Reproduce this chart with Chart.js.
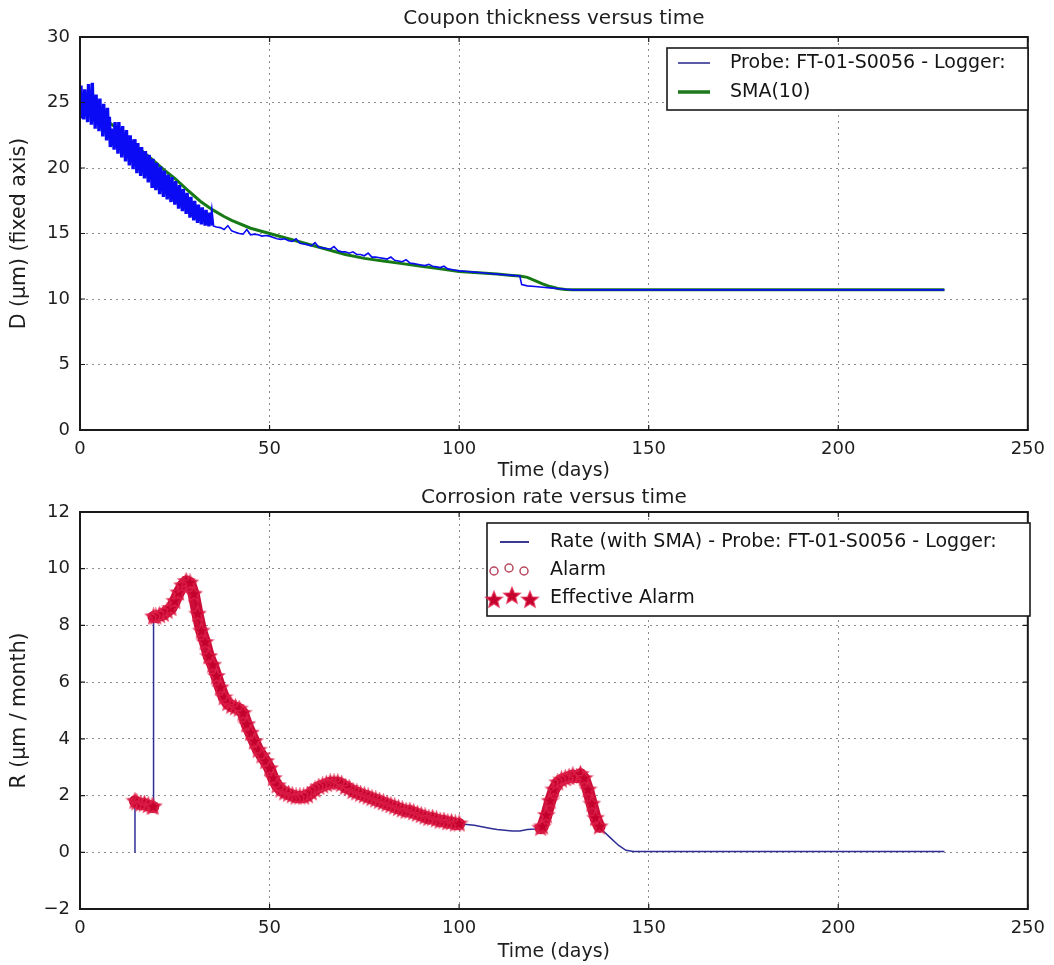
<!DOCTYPE html>
<html lang="en">
<head>
  <meta charset="UTF-8" />
  <title>Coupon thickness and corrosion rate</title>
  <script src="https://cdn.jsdelivr.net/npm/chart.js"></script>
  <style>
    html, body { margin: 0; padding: 0; background: #fff; }
    #wrap { position: relative; width: 1054px; height: 965px; }
    .panel { position: absolute; left: 0; width: 1054px; }
  </style>
</head>
<body>
  <div id="wrap">
    <div class="panel" style="top:0;height:486px"><canvas id="thickChart"></canvas></div>
    <div class="panel" style="top:486px;height:479px"><canvas id="rateChart"></canvas></div>
  </div>

  <script>
    // ---- top panel: coupon thickness (um) ----
    // first 35 days are a noisy logger signal (sampled every 6 h)
    const noisyDays = [
      0,0.25,0.5,0.75, 1,1.25,1.5,1.75, 2,2.25,2.5,2.75, 3,3.25,3.5,3.75, 4,4.25,4.5,4.75,
      5,5.25,5.5,5.75, 6,6.25,6.5,6.75, 7,7.25,7.5,7.75, 8,8.25,8.5,8.75, 9,9.25,9.5,9.75,
      10,10.25,10.5,10.75, 11,11.25,11.5,11.75, 12,12.25,12.5,12.75, 13,13.25,13.5,13.75, 14,14.25,14.5,14.75,
      15,15.25,15.5,15.75, 16,16.25,16.5,16.75, 17,17.25,17.5,17.75, 18,18.25,18.5,18.75, 19,19.25,19.5,19.75,
      20,20.25,20.5,20.75, 21,21.25,21.5,21.75, 22,22.25,22.5,22.75, 23,23.25,23.5,23.75, 24,24.25,24.5,24.75,
      25,25.25,25.5,25.75, 26,26.25,26.5,26.75, 27,27.25,27.5,27.75, 28,28.25,28.5,28.75, 29,29.25,29.5,29.75,
      30,30.25,30.5,30.75, 31,31.25,31.5,31.75, 32,32.25,32.5,32.75, 33,33.25,33.5,33.75, 34,34.25,34.5,34.75];
    const noisyThickness = [
      23.9,26.3,24.2,25.7, 23.7,26.0,24.0,25.5, 23.5,26.4,23.9,25.8, 23.3,26.5,23.6,25.4, 23.0,25.6,23.3,25.2,
      22.8,25.3,23.1,24.7, 22.4,24.9,22.8,24.5, 22.1,24.6,22.4,23.9, 21.6,23.0,21.9,22.8, 21.4,23.5,21.7,23.2,
      21.1,23.5,21.4,23.0, 20.8,23.2,21.1,22.6, 20.5,22.9,20.8,22.5, 20.2,22.5,20.6,22.0, 19.9,22.2,20.3,21.8,
      19.6,21.9,19.9,21.4, 19.4,21.6,19.7,21.2, 19.2,21.3,19.5,20.8, 18.9,21.0,19.2,20.6, 18.6,20.7,18.9,20.3,
      18.3,20.4,18.6,19.9, 18.0,20.1,18.4,19.7, 17.8,19.8,18.1,19.4, 17.6,19.5,17.9,19.0, 17.4,19.3,17.7,18.8,
      17.2,19.0,17.4,18.5, 16.9,18.7,17.2,18.3, 16.7,18.4,17.0,17.9, 16.5,18.1,16.8,17.7, 16.2,17.8,16.5,17.4,
      16.0,17.5,16.3,17.1, 15.8,17.2,16.1,16.9, 15.7,17.0,15.9,16.7, 15.6,16.8,15.8,16.5, 15.55,16.6,15.7,16.3];
    // after day 35 the signal is smooth with small spikes
    const laterDays = [35,
      36,37,38,39,40,41,42,43,44,45,46,47,48,49,50,51,52,53,54,55,56,57,58,59,60,
      61,62,63,64,65,66,67,68,69,70,71,72,73,74,75,76,77,78,79,80,
      81,82,83,84,85,86,87,88,89,90,91,92,93,94,95,96,97,98,99,100,
      102,104,106,108,110,112,114,116,116.5,118,120,122,124,126,128,130,228];
    const laterThickness = [15.6,
      15.5,15.45,15.3,15.6,15.2,15.1,15.0,14.95,15.3,14.9,14.95,14.9,14.8,14.85,14.8,
      14.7,14.6,14.55,14.6,14.45,14.4,14.6,14.25,14.2,14.15,
      14.05,14.3,13.95,13.9,13.85,13.8,14.0,13.7,13.6,13.6,
      13.5,13.6,13.4,13.4,13.3,13.5,13.2,13.2,13.15,13.1,
      13.05,13.2,12.95,12.9,12.85,13.0,12.75,12.7,12.65,12.6,
      12.55,12.65,12.5,12.45,12.4,12.5,12.3,12.25,12.2,12.15,
      12.1,12.05,12.0,11.95,11.9,11.85,11.8,11.75,11.1,11.0,10.95,10.9,10.85,10.8,10.75,10.7,10.7];
    const smaDays = [0,2,5,8,10,12,15,18,20,22,25,28,30,32,35,38,40,45,50,55,60,65,70,75,80,
      85,90,95,100,105,110,114,116,118,120,122,124,126,128,130,135,228];
    const smaThickness = [25.0,24.6,24.0,23.4,23.0,22.5,21.6,20.9,20.4,19.9,19.2,18.4,17.9,17.4,16.8,
      16.3,16.0,15.4,15.0,14.6,14.2,13.8,13.4,13.1,12.9,12.7,12.5,12.3,12.1,12.0,11.9,11.8,11.75,
      11.65,11.4,11.15,10.95,10.8,10.72,10.7,10.7,10.7];

    // ---- bottom panel: corrosion rate (um / month) ----
    const rateDays = [14.4,14.5,15,16,17,18,19,19.3,19.4,
      20,21,22,23,24,25,26,27,28,29,30,31,32,33,34,35,36,37,38,39,40,
      41,42,43,44,45,46,47,48,49,50,51,52,53,54,55,56,57,58,59,60,
      61,62,63,64,65,66,67,68,69,70,71,72,73,74,75,76,77,78,79,80,
      81,82,83,84,85,86,87,88,89,90,91,92,93,94,95,96,97,98,99,100,
      102,104,106,108,110,112,114,116,118,120,121.5,
      122,123,124,125,126,127,128,129,130,131,132,133,134,135,136,137,
      138,140,142,144,146,228];
    const rateValues = [0,1.8,1.75,1.7,1.7,1.65,1.6,1.6,8.3,
      8.3,8.35,8.4,8.5,8.6,8.85,9.15,9.4,9.55,9.5,9.1,8.4,7.8,7.4,6.9,6.6,6.2,5.8,5.45,5.25,5.15,
      5.1,5.05,4.9,4.5,4.2,3.9,3.6,3.4,3.2,2.95,2.6,2.35,2.2,2.1,2.05,2.0,1.95,1.95,1.95,2.0,
      2.1,2.2,2.3,2.35,2.4,2.45,2.45,2.45,2.4,2.3,2.25,2.15,2.1,2.05,2.0,1.95,1.9,1.85,1.8,1.75,
      1.7,1.65,1.6,1.55,1.5,1.45,1.45,1.4,1.35,1.3,1.25,1.2,1.2,1.15,1.1,1.1,1.05,1.05,1.0,1.0,
      0.98,0.95,0.9,0.85,0.8,0.78,0.75,0.75,0.8,0.82,0.85,
      0.9,1.3,1.8,2.2,2.45,2.55,2.6,2.65,2.7,2.65,2.75,2.6,2.2,1.7,1.2,0.9,
      0.75,0.5,0.25,0.07,0.03,0.03];
    // day ranges where the alarm was raised (the jump at day 19.3 is not part of a run)
    const alarmWindows = [[14.5, 19.3], [19.4, 100], [121.5, 137]];

    const dayTicks = [0, 50, 100, 150, 200, 250];
    const thickTicks = [0, 5, 10, 15, 20, 25, 30];
    const rateTicks = [-2, 0, 2, 4, 6, 8, 10, 12];

    const FONT = 'DejaVu Sans';
    const TEXT = '#1e1e1e';
    const GRID = 'rgba(0,0,0,0.45)';
    const ALARM_RED = '#c4002c';

    const toPoints = (xs, ys) => xs.map((x, i) => ({ x, y: ys[i] }));
    const probePoints = toPoints(noisyDays.concat(laterDays), noisyThickness.concat(laterThickness));
    const ratePoints = toPoints(rateDays, rateValues);
    // one run of points per alarm window, with a gap between runs
    const alarmPoints = alarmWindows.flatMap(([a, b], i) => {
      const run = ratePoints.filter(p => p.x >= a && p.x <= b);
      return i ? [{ x: a, y: null }, ...run] : run;
    });

    // filled five-point star, used as the marker image
    function makeStar(size) {
      const c = document.createElement('canvas');
      c.width = c.height = size;
      const g = c.getContext('2d');
      const R = size / 2 - 1.5, r = R * 0.45;
      g.beginPath();
      for (let i = 0; i < 10; i++) {
        const ang = -Math.PI / 2 + i * Math.PI / 5;
        const rad = i % 2 ? r : R;
        g.lineTo(size / 2 + rad * Math.cos(ang), size / 2 + rad * Math.sin(ang));
      }
      g.closePath();
      g.fillStyle = ALARM_RED;
      g.fill();
      g.strokeStyle = 'rgba(225,40,80,0.75)';
      g.lineWidth = 1.5;
      g.stroke();
      return c;
    }
    const starImg = makeStar(19);
    const legendStar = makeStar(20);

    // axes frame, inward tick marks and a boxed legend
    function framePlugin(legend) {
      return {
        id: 'frame',
        afterDatasetsDraw(chart) {
          const { ctx, chartArea: a, scales: { x, y } } = chart;
          ctx.save();
          ctx.strokeStyle = '#1a1a1a';
          ctx.lineWidth = 1.2;
          ctx.beginPath();
          x.ticks.forEach(t => {
            const px = x.getPixelForValue(t.value);
            ctx.moveTo(px, a.top); ctx.lineTo(px, a.top + 5);
            ctx.moveTo(px, a.bottom); ctx.lineTo(px, a.bottom - 5);
          });
          y.ticks.forEach(t => {
            const py = y.getPixelForValue(t.value);
            ctx.moveTo(a.left, py); ctx.lineTo(a.left + 5, py);
            ctx.moveTo(a.right, py); ctx.lineTo(a.right - 5, py);
          });
          ctx.stroke();
          ctx.lineWidth = 2;
          ctx.strokeRect(a.left, a.top, a.right - a.left, a.bottom - a.top);

          // legend box
          ctx.fillStyle = '#fff';
          ctx.fillRect(legend.left, legend.top, legend.right - legend.left, legend.bottom - legend.top);
          ctx.lineWidth = 1.6;
          ctx.strokeRect(legend.left, legend.top, legend.right - legend.left, legend.bottom - legend.top);
          ctx.font = '19px "' + FONT + '"';
          ctx.textBaseline = 'middle';
          legend.items.forEach((it, i) => {
            const cy = legend.rows[i];
            if (it.kind === 'line') {
              ctx.strokeStyle = it.color;
              ctx.lineWidth = it.width;
              ctx.beginPath();
              ctx.moveTo(legend.sample[0], cy);
              ctx.lineTo(legend.sample[1], cy);
              ctx.stroke();
            } else if (it.kind === 'circles') {
              ctx.strokeStyle = '#b8485e';
              ctx.lineWidth = 1.5;
              [[494, 1], [509, -2], [524, 1]].forEach(([cx, dy]) => {
                ctx.beginPath();
                ctx.arc(cx, cy + dy, 4, 0, Math.PI * 2);
                ctx.stroke();
              });
            } else if (it.kind === 'stars') {
              [[494, 2], [512, -2], [530, 2]].forEach(([cx, dy]) => {
                ctx.drawImage(legendStar, cx - 10, cy + dy - 10);
              });
            }
            ctx.fillStyle = '#151515';
            ctx.fillText(it.text, legend.textX, cy);
          });
          ctx.restore();
        }
      };
    }

    function axisOptions(ticksList, min, max, size, titleText, titleSize, titlePad, tickPad) {
      return {
        type: 'linear',
        min, max,
        afterBuildTicks: s => { s.ticks = ticksList.map(v => ({ value: v })); },
        afterFit: s => { if (s.isHorizontal()) s.height = size; else s.width = size; },
        ticks: {
          font: { family: FONT, size: 18 }, color: TEXT, padding: tickPad, maxRotation: 0, autoSkip: false,
          callback: v => (v < 0 ? '\u2212' + Math.abs(v) : String(v))
        },
        grid: { color: GRID, lineWidth: 1, drawTicks: false },
        border: { display: false, dash: [2, 4] },
        title: { display: true, text: titleText, font: { family: FONT, size: titleSize }, color: TEXT, padding: titlePad }
      };
    }

    const baseOptions = (titleText, titlePad) => ({
      responsive: true,
      maintainAspectRatio: false,
      animation: false,
      devicePixelRatio: 1,
      layout: { padding: { left: 0, right: 17, top: 0, bottom: 0 } },
      plugins: {
        legend: { display: false },
        tooltip: { enabled: false },
        title: {
          display: true, text: titleText, fullSize: false, color: TEXT,
          font: { family: FONT, size: 20, weight: 'normal' }, padding: titlePad
        }
      }
    });

    // top chart
    const thickOpts = baseOptions('Coupon thickness versus time', { top: 7, bottom: 6 });
    thickOpts.scales = {
      x: axisOptions(dayTicks, 0, 250, 56, 'Time (days)', 19, { top: 0, bottom: 4 }, 9),
      y: axisOptions(thickTicks, 0, 30, 80, 'D (\u03bcm) (fixed axis)', 20.5, { top: 7, bottom: 0 }, 10)
    };
    new Chart(document.getElementById('thickChart'), {
      type: 'scatter',
      data: {
        datasets: [
          { label: 'Probe: FT-01-S0056 - Logger:', data: probePoints, showLine: true,
            borderColor: '#0a0af5', borderWidth: 1.6, pointRadius: 0, order: 0,
            segment: { borderWidth: c => (c.p1.parsed.x <= 35 ? 3.4 : 1.6) } },
          { label: 'SMA(10)', data: toPoints(smaDays, smaThickness), showLine: true,
            borderColor: '#177a17', borderWidth: 3, pointRadius: 0, order: 1 }
        ]
      },
      options: thickOpts,
      plugins: [framePlugin({
        left: 667, top: 48, right: 1028, bottom: 110,
        rows: [63, 92], sample: [678, 710], textX: 730,
        items: [
          { kind: 'line', color: '#5a5aa8', width: 2, text: 'Probe: FT-01-S0056 - Logger:' },
          { kind: 'line', color: '#1c7a1c', width: 3.5, text: 'SMA(10)' }
        ]
      })]
    });

    // bottom chart
    const rateOpts = baseOptions('Corrosion rate versus time', { top: 0, bottom: 2 });
    rateOpts.scales = {
      x: axisOptions(dayTicks, 0, 250, 56, 'Time (days)', 19, { top: 0, bottom: 2 }, 9),
      y: axisOptions(rateTicks, -2, 12, 80, 'R (\u03bcm / month)', 20.5, { top: 7, bottom: 0 }, 10)
    };
    new Chart(document.getElementById('rateChart'), {
      type: 'scatter',
      data: {
        datasets: [
          { label: 'Effective Alarm', data: alarmPoints, pointStyle: starImg, pointRadius: 9,
            showLine: true, spanGaps: false, borderColor: 'rgba(200,0,45,0.95)', borderWidth: 12,
            borderCapStyle: 'round', borderJoinStyle: 'round', order: 0 },
          { label: 'Alarm', data: alarmPoints, pointStyle: 'circle', pointRadius: 5,
            borderColor: '#b8485e', backgroundColor: 'rgba(0,0,0,0)', borderWidth: 1.5, showLine: false, order: 1 },
          { label: 'Rate (with SMA) - Probe: FT-01-S0056 - Logger:', data: ratePoints,
            showLine: true, borderColor: '#2e2e96', borderWidth: 1.5, pointRadius: 0, order: 2 }
        ]
      },
      options: rateOpts,
      plugins: [framePlugin({
        left: 487, top: 37, right: 1030, bottom: 130,
        rows: [56, 84, 112], sample: [500, 529], textX: 550,
        items: [
          { kind: 'line', color: '#3a3a96', width: 2, text: 'Rate (with SMA) - Probe: FT-01-S0056 - Logger:' },
          { kind: 'circles', text: 'Alarm' },
          { kind: 'stars', text: 'Effective Alarm' }
        ]
      })]
    });
  </script>
</body>
</html>
